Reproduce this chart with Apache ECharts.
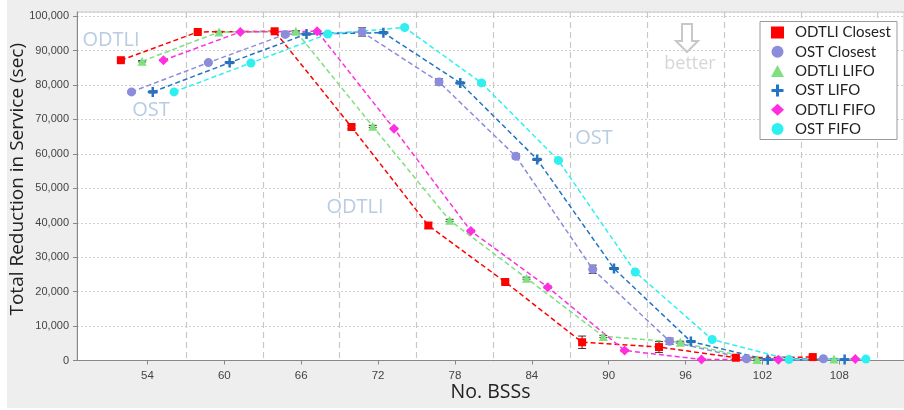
<!DOCTYPE html>
<html>
<head>
<meta charset="utf-8">
<script src="https://cdn.jsdelivr.net/npm/echarts@6/dist/echarts.min.js"></script>
<style>
  html, body { margin: 0; padding: 0; background: #ffffff; }
  #panel { position: absolute; left: 7px; top: 0; width: 897px; height: 408px; background: #eeeeee; }
  #chart { position: absolute; left: 0; top: 0; width: 904px; height: 410px; }
</style>
</head>
<body>
<div id="panel"></div>
<div id="chart"></div>
<script>
// Number of BSSs (one group of six runs per value)
const bssCounts = [54, 60, 66, 72, 78, 84, 90, 96, 102, 108];
// Group boundaries, drawn as vertical dashed lines
const groupEdges = [57, 63, 69, 75, 81, 87, 93, 99, 105, 111];

// Total reduction in service (sec)
const odtliClosest = [87200, 95400, 95600, 67800, 39200, 22800, 5300, 3900, 800, 1000];
const ostClosest   = [78000, 86500, 94700, 95400, 80900, 59300, 26500, 5600, 500, 500];
const odtliLifo    = [86900, 95400, 95600, 68000, 40700, 23900, 7000, 5300, 300, 400];
const ostLifo      = [78000, 86500, 94800, 95200, 80600, 58400, 26700, 5500, 200, 300];
const odtliFifo    = [87200, 95400, 95600, 67300, 37600, 21300, 2900, 300, 200, 400];
const ostFifo      = [78000, 86400, 94800, 96700, 80600, 58100, 25700, 6100, 300, 400];

// Half-width of the error bars (sec)
const odtliClosestErr = [300, 300, 300, 500, 800, 400, 1800, 1600, 300, 300];
const ostClosestErr   = [300, 300, 600, 1200, 900, 700, 1200, 900, 300, 300];
const odtliLifoErr    = [200, 200, 200, 300, 300, 300, 300, 300, 200, 200];
const ostLifoErr      = [300, 300, 300, 300, 300, 300, 300, 300, 200, 200];
const odtliFifoErr    = [200, 200, 200, 200, 300, 300, 300, 200, 200, 200];
const ostFifoErr      = [200, 200, 300, 300, 300, 300, 300, 300, 200, 200];

const seriesNames = ['ODTLI Closest', 'OST Closest', 'ODTLI LIFO', 'OST LIFO', 'ODTLI FIFO', 'OST FIFO'];
const seriesValues = [odtliClosest, ostClosest, odtliLifo, ostLifo, odtliFifo, ostFifo];
const seriesErrors = [odtliClosestErr, ostClosestErr, odtliLifoErr, ostLifoErr, odtliFifoErr, ostFifoErr];

const plusPath = 'path://M3,0h2v3h3v2h-3v3h-2v-3h-3v-2h3z';
const styles = [
  { color: '#ff0000', symbol: 'rect',     size: 8 },
  { color: '#8c8cdc', symbol: 'circle',   size: 9 },
  { color: '#7ee07e', symbol: 'triangle', size: 9 },
  { color: '#2473c4', symbol: plusPath,   size: 10 },
  { color: '#ff2ee0', symbol: 'diamond',  size: 10 },
  { color: '#2ef0f0', symbol: 'circle',   size: 9 }
];
const dodge = 0.83; // horizontal spread of the six runs inside a group

function errorBarRenderer(color) {
  return function (params, api) {
    const x = api.value(0);
    const lo = api.coord([x, api.value(1)]);
    const hi = api.coord([x, api.value(2)]);
    const hw = 4;
    return {
      type: 'group',
      children: [
        { type: 'line', shape: { x1: lo[0], y1: lo[1], x2: hi[0], y2: hi[1] }, style: { stroke: color, lineWidth: 1.2 } },
        { type: 'line', shape: { x1: lo[0] - hw, y1: lo[1], x2: lo[0] + hw, y2: lo[1] }, style: { stroke: '#333', lineWidth: 1 } },
        { type: 'line', shape: { x1: hi[0] - hw, y1: hi[1], x2: hi[0] + hw, y2: hi[1] }, style: { stroke: '#333', lineWidth: 1 } }
      ]
    };
  };
}

const series = [];
seriesNames.forEach(function (name, k) {
  const st = styles[k];
  const off = (k - 2.5) * dodge;
  series.push({
    name: name + ' error',
    type: 'custom',
    z: 2,
    renderItem: errorBarRenderer(st.color),
    encode: { x: 0, y: [1, 2] },
    data: bssCounts.map(function (b, i) {
      return [b + off, seriesValues[k][i] - seriesErrors[k][i], seriesValues[k][i] + seriesErrors[k][i]];
    })
  });
  series.push({
    name: name,
    type: 'line',
    z: 3,
    symbol: st.symbol,
    symbolSize: st.size,
    itemStyle: { color: st.color },
    lineStyle: { color: st.color, width: 1.5, type: [5, 3] },
    emphasis: { disabled: true },
    data: bssCounts.map(function (b, i) { return [b + off, seriesValues[k][i]]; })
  });
});

const annoBlue = '#b8cce4';
const chart = echarts.init(document.getElementById('chart'), null, { renderer: 'canvas' });
chart.setOption({
  animation: false,
  backgroundColor: 'transparent',
  grid: {
    left: 77, right: 0, top: 12, bottom: 49.5,
    outerBoundsMode: 'none', containLabel: false,
    show: true, backgroundColor: '#ffffff', borderColor: '#c8c8c8', borderWidth: 1
  },
  xAxis: [{
    type: 'value',
    min: 48.5,
    max: 113.05,
    name: 'No. BSSs',
    nameLocation: 'middle',
    nameGap: 22,
    nameMoveOverlap: false,
    nameTextStyle: { fontFamily: 'Open Sans', fontSize: 19.5, color: '#222' },
    axisLine: { onZero: false, lineStyle: { color: '#888', width: 1 } },
    axisTick: { customValues: bssCounts, length: 4, lineStyle: { color: '#888' } },
    axisLabel: { customValues: bssCounts, fontFamily: 'Liberation Sans', fontSize: 11.5, color: '#444', margin: 9 },
    splitLine: { show: false }
  }, {
    type: 'value',
    min: 48.5,
    max: 113.05,
    position: 'bottom',
    axisLine: { show: false },
    axisTick: { show: false, customValues: groupEdges },
    axisLabel: { show: false },
    splitLine: { show: true, lineStyle: { color: '#c8c8c8', width: 1.2, type: [6, 4] } }
  }],
  yAxis: {
    type: 'value',
    min: 0,
    max: 101200,
    interval: 10000,
    name: 'Total Reduction in Service (sec)',
    nameLocation: 'middle',
    nameGap: 50,
    nameMoveOverlap: false,
    nameTextStyle: { fontFamily: 'Open Sans', fontSize: 19, color: '#222', padding: [0, 0, 0, 14] },
    axisLine: { show: true, lineStyle: { color: '#888', width: 1 } },
    axisTick: { show: true, length: 4, lineStyle: { color: '#888' } },
    axisLabel: {
      showMaxLabel: false,
      fontFamily: 'Liberation Sans', fontSize: 11, color: '#444', margin: 8,
      formatter: function (v) { return v.toLocaleString('en-US'); }
    },
    splitLine: { show: true, lineStyle: { color: '#d0d0d0', width: 1, type: [2, 2] } }
  },
  legend: {
    orient: 'vertical',
    left: 771,
    top: 25,
    padding: 0,
    itemWidth: 13,
    itemHeight: 12,
    itemGap: 4.3,
    textStyle: { fontFamily: 'Lato', fontSize: 15, color: '#222', padding: [0, 0, 0, 6] },
    data: seriesNames.map(function (n, k) { return { name: n, icon: k === 3 ? plusPath : styles[k].symbol }; }),
    selectedMode: false
  },
  graphic: [
    { type: 'rect', z: 1, shape: { x: 760, y: 21.5, width: 137, height: 118 }, style: { fill: '#ffffff', stroke: '#9a9a9a', lineWidth: 1 } },
    { type: 'text', z: 1, x: 111, y: 40, style: { text: 'ODTLI', font: '20px "Open Sans"', fill: annoBlue, align: 'center', verticalAlign: 'middle' } },
    { type: 'text', z: 1, x: 151, y: 110, style: { text: 'OST', font: '20px "Open Sans"', fill: annoBlue, align: 'center', verticalAlign: 'middle' } },
    { type: 'text', z: 1, x: 355, y: 207, style: { text: 'ODTLI', font: '20px "Open Sans"', fill: annoBlue, align: 'center', verticalAlign: 'middle' } },
    { type: 'text', z: 1, x: 594, y: 138, style: { text: 'OST', font: '20px "Open Sans"', fill: annoBlue, align: 'center', verticalAlign: 'middle' } },
    { type: 'text', z: 1, x: 690, y: 64, style: { text: 'better', font: '18px "Open Sans"', fill: '#d6d6d6', align: 'center', verticalAlign: 'middle' } },
    { type: 'polygon', z: 1, shape: { points: [[682, 24], [692, 24], [692, 41], [698, 41], [687, 52], [676, 41], [682, 41]] }, style: { fill: 'none', stroke: '#c8c8c8', lineWidth: 2 } }
  ],
  series: series
});
</script>
</body>
</html>
